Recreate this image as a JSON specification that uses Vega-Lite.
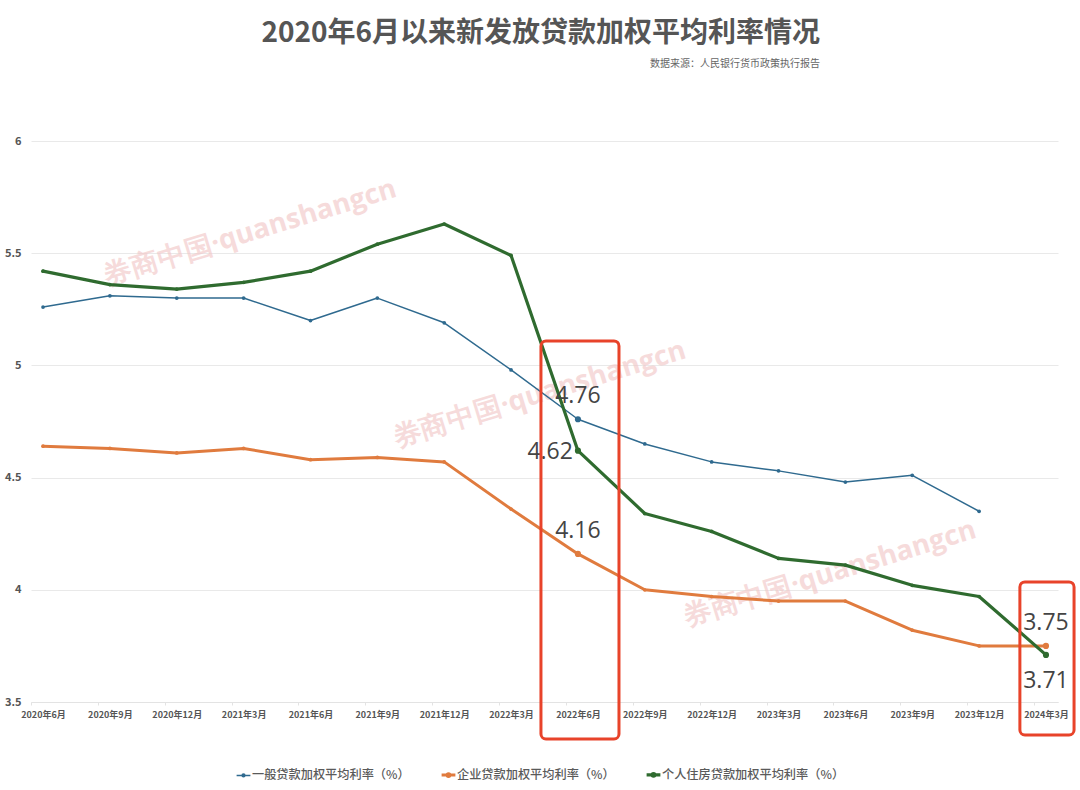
{
  "$schema": "https://vega.github.io/schema/vega-lite/v6.json",
  "autosize": "none",
  "width": 1027,
  "height": 561,
  "padding": {"left": 31, "top": 141, "right": 22, "bottom": 88},
  "background": "white",
  "config": {"font": "Noto Sans CJK SC", "view": {"stroke": null}},
  "title": {
    "text": "2020年6月以来新发放贷款加权平均利率情况",
    "subtitle": "数据来源：人民银行货币政策执行报告",
    "anchor": "end",
    "align": "right",
    "frame": "group",
    "dx": -238,
    "offset": 66,
    "fontSize": 28,
    "fontWeight": "bold",
    "color": "#555555",
    "subtitleFontSize": 10,
    "subtitleColor": "#666666",
    "subtitlePadding": 11
  },
  "datasets": {
    "rates": [
      {"month": "2020年6月", "series": "一般贷款加权平均利率（%）", "rate": 5.26},
      {"month": "2020年9月", "series": "一般贷款加权平均利率（%）", "rate": 5.31},
      {"month": "2020年12月", "series": "一般贷款加权平均利率（%）", "rate": 5.30},
      {"month": "2021年3月", "series": "一般贷款加权平均利率（%）", "rate": 5.30},
      {"month": "2021年6月", "series": "一般贷款加权平均利率（%）", "rate": 5.20},
      {"month": "2021年9月", "series": "一般贷款加权平均利率（%）", "rate": 5.30},
      {"month": "2021年12月", "series": "一般贷款加权平均利率（%）", "rate": 5.19},
      {"month": "2022年3月", "series": "一般贷款加权平均利率（%）", "rate": 4.98},
      {"month": "2022年6月", "series": "一般贷款加权平均利率（%）", "rate": 4.76},
      {"month": "2022年9月", "series": "一般贷款加权平均利率（%）", "rate": 4.65},
      {"month": "2022年12月", "series": "一般贷款加权平均利率（%）", "rate": 4.57},
      {"month": "2023年3月", "series": "一般贷款加权平均利率（%）", "rate": 4.53},
      {"month": "2023年6月", "series": "一般贷款加权平均利率（%）", "rate": 4.48},
      {"month": "2023年9月", "series": "一般贷款加权平均利率（%）", "rate": 4.51},
      {"month": "2023年12月", "series": "一般贷款加权平均利率（%）", "rate": 4.35},
      {"month": "2020年6月", "series": "企业贷款加权平均利率（%）", "rate": 4.64},
      {"month": "2020年9月", "series": "企业贷款加权平均利率（%）", "rate": 4.63},
      {"month": "2020年12月", "series": "企业贷款加权平均利率（%）", "rate": 4.61},
      {"month": "2021年3月", "series": "企业贷款加权平均利率（%）", "rate": 4.63},
      {"month": "2021年6月", "series": "企业贷款加权平均利率（%）", "rate": 4.58},
      {"month": "2021年9月", "series": "企业贷款加权平均利率（%）", "rate": 4.59},
      {"month": "2021年12月", "series": "企业贷款加权平均利率（%）", "rate": 4.57},
      {"month": "2022年3月", "series": "企业贷款加权平均利率（%）", "rate": 4.36},
      {"month": "2022年6月", "series": "企业贷款加权平均利率（%）", "rate": 4.16},
      {"month": "2022年9月", "series": "企业贷款加权平均利率（%）", "rate": 4.00},
      {"month": "2022年12月", "series": "企业贷款加权平均利率（%）", "rate": 3.97},
      {"month": "2023年3月", "series": "企业贷款加权平均利率（%）", "rate": 3.95},
      {"month": "2023年6月", "series": "企业贷款加权平均利率（%）", "rate": 3.95},
      {"month": "2023年9月", "series": "企业贷款加权平均利率（%）", "rate": 3.82},
      {"month": "2023年12月", "series": "企业贷款加权平均利率（%）", "rate": 3.75},
      {"month": "2024年3月", "series": "企业贷款加权平均利率（%）", "rate": 3.75},
      {"month": "2020年6月", "series": "个人住房贷款加权平均利率（%）", "rate": 5.42},
      {"month": "2020年9月", "series": "个人住房贷款加权平均利率（%）", "rate": 5.36},
      {"month": "2020年12月", "series": "个人住房贷款加权平均利率（%）", "rate": 5.34},
      {"month": "2021年3月", "series": "个人住房贷款加权平均利率（%）", "rate": 5.37},
      {"month": "2021年6月", "series": "个人住房贷款加权平均利率（%）", "rate": 5.42},
      {"month": "2021年9月", "series": "个人住房贷款加权平均利率（%）", "rate": 5.54},
      {"month": "2021年12月", "series": "个人住房贷款加权平均利率（%）", "rate": 5.63},
      {"month": "2022年3月", "series": "个人住房贷款加权平均利率（%）", "rate": 5.49},
      {"month": "2022年6月", "series": "个人住房贷款加权平均利率（%）", "rate": 4.62},
      {"month": "2022年9月", "series": "个人住房贷款加权平均利率（%）", "rate": 4.34},
      {"month": "2022年12月", "series": "个人住房贷款加权平均利率（%）", "rate": 4.26},
      {"month": "2023年3月", "series": "个人住房贷款加权平均利率（%）", "rate": 4.14},
      {"month": "2023年6月", "series": "个人住房贷款加权平均利率（%）", "rate": 4.11},
      {"month": "2023年9月", "series": "个人住房贷款加权平均利率（%）", "rate": 4.02},
      {"month": "2023年12月", "series": "个人住房贷款加权平均利率（%）", "rate": 3.97},
      {"month": "2024年3月", "series": "个人住房贷款加权平均利率（%）", "rate": 3.71}
    ]
  },
  "resolve": {"scale": {"x": "independent"}},
  "layer": [
    {
      "data": {"values": [
        {"pos": 3.1, "level": 5.59, "mark": "券商中国·quanshangcn"},
        {"pos": 7.43, "level": 4.87, "mark": "券商中国·quanshangcn"},
        {"pos": 11.77, "level": 4.07, "mark": "券商中国·quanshangcn"}
      ]},
      "mark": {"type": "text", "fontSize": 27.5, "fontWeight": "bold", "angle": 343, "color": "#f2c8c8", "opacity": 0.65, "font": "Open Sans"},
      "encoding": {
        "x": {"field": "pos", "type": "quantitative", "scale": {"domain": [-0.18, 15.18], "nice": false, "zero": false}, "axis": null},
        "y": {
          "field": "level",
          "type": "quantitative",
          "scale": {"domain": [3.5, 6], "nice": false, "zero": false},
          "axis": {
            "title": null,
            "values": [3.5, 4, 4.5, 5, 5.5, 6],
            "format": "~g",
            "labelFontSize": 11,
            "labelFontWeight": "bold",
            "labelColor": "#555555",
            "labelPadding": 10,
            "ticks": false,
            "domain": false,
            "grid": true,
            "gridColor": "#e9e9e9"
          }
        },
        "text": {"field": "mark"}
      }
    },
    {
      "data": {"name": "rates"},
      "encoding": {
        "x": {
          "field": "month",
          "type": "ordinal",
          "sort": null,
          "scale": {
            "type": "point",
            "padding": 0.18,
            "domain": ["2020年6月", "2020年9月", "2020年12月", "2021年3月", "2021年6月", "2021年9月", "2021年12月", "2022年3月", "2022年6月", "2022年9月", "2022年12月", "2023年3月", "2023年6月", "2023年9月", "2023年12月", "2024年3月"]
          },
          "axis": {
            "title": null,
            "labelAngle": 0,
            "labelFontSize": 9,
            "labelFontWeight": "bold",
            "labelColor": "#555555",
            "labelPadding": 5,
            "labelOverlap": false,
            "tickOffset": -12,
            "labelOffset": 12,
            "tickSize": 3,
            "tickColor": "#e3e3e3",
            "domainColor": "#e3e3e3",
            "grid": false
          }
        },
        "y": {
          "field": "rate",
          "type": "quantitative",
          "scale": {"domain": [3.5, 6], "nice": false, "zero": false}
        },
        "color": {
          "field": "series",
          "type": "nominal",
          "scale": {
            "domain": ["一般贷款加权平均利率（%）", "企业贷款加权平均利率（%）", "个人住房贷款加权平均利率（%）"],
            "range": ["#2f6a8f", "#e07b3e", "#2f6b2f"]
          },
          "legend": null
        }
      },
      "layer": [
        {
          "mark": {"type": "line", "strokeJoin": "round", "strokeCap": "round"},
          "encoding": {
            "strokeWidth": {
              "field": "series",
              "type": "nominal",
              "scale": {
                "type": "ordinal",
                "domain": ["一般贷款加权平均利率（%）", "企业贷款加权平均利率（%）", "个人住房贷款加权平均利率（%）"],
                "range": [1.5, 3, 3.2]
              },
              "legend": null
            },
            "color": {
              "field": "series",
              "type": "nominal",
              "legend": {
                "title": null,
                "orient": "none",
                "legendX": 204,
                "legendY": 625,
                "direction": "horizontal",
                "columns": 3,
                "columnPadding": 25,
                "labelFontSize": 12.2,
                "labelFontWeight": 500,
                "labelColor": "#5a5a5a",
                "labelLimit": 240,
                "labelOffset": 0,
                "symbolType": "M-1,0H1M-0.2,0A0.2,0.2,0,1,1,0.2,0A0.2,0.2,0,1,1,-0.2,0Z",
                "symbolSize": 190
              }
            }
          }
        },
        {
          "mark": {"type": "point", "filled": true, "size": 14, "opacity": 1}
        },
        {
          "transform": [{"filter": "datum.month === '2022年6月' || datum.month === '2024年3月'"}],
          "mark": {"type": "point", "filled": true, "size": 38, "opacity": 1}
        },
        {
          "transform": [{"filter": "datum.rate === 4.76 || datum.rate === 4.16 || datum.rate === 3.75 && datum.month === '2024年3月'"}],
          "mark": {"type": "text", "font": "Open Sans", "fontSize": 23, "dy": -23},
          "encoding": {"text": {"field": "rate", "format": ".2f"}, "color": {"value": "#444444"}}
        },
        {
          "transform": [{"filter": "datum.rate === 4.62 && datum.month === '2022年6月'"}],
          "mark": {"type": "text", "font": "Open Sans", "fontSize": 23, "align": "right", "dx": -5, "dy": 1},
          "encoding": {"text": {"field": "rate", "format": ".2f"}, "color": {"value": "#444444"}}
        },
        {
          "transform": [{"filter": "datum.rate === 3.71"}],
          "mark": {"type": "text", "font": "Open Sans", "fontSize": 23, "dy": 26},
          "encoding": {"text": {"field": "rate", "format": ".2f"}, "color": {"value": "#444444"}}
        }
      ]
    },
    {
      "data": {"values": [
        {"from": 7.447, "to": 8.614, "top": 5.109, "bottom": 3.335},
        {"from": 14.61, "to": 15.42, "top": 4.035, "bottom": 3.353}
      ]},
      "mark": {"type": "rect", "fill": "transparent", "stroke": "#e8432a", "strokeWidth": 3, "cornerRadius": 5},
      "encoding": {
        "x": {"field": "from", "type": "quantitative", "scale": {"domain": [-0.18, 15.18], "nice": false, "zero": false}, "axis": null},
        "x2": {"field": "to"},
        "y": {"field": "top", "type": "quantitative", "scale": {"domain": [3.5, 6], "nice": false, "zero": false}},
        "y2": {"field": "bottom"}
      }
    }
  ]
}
